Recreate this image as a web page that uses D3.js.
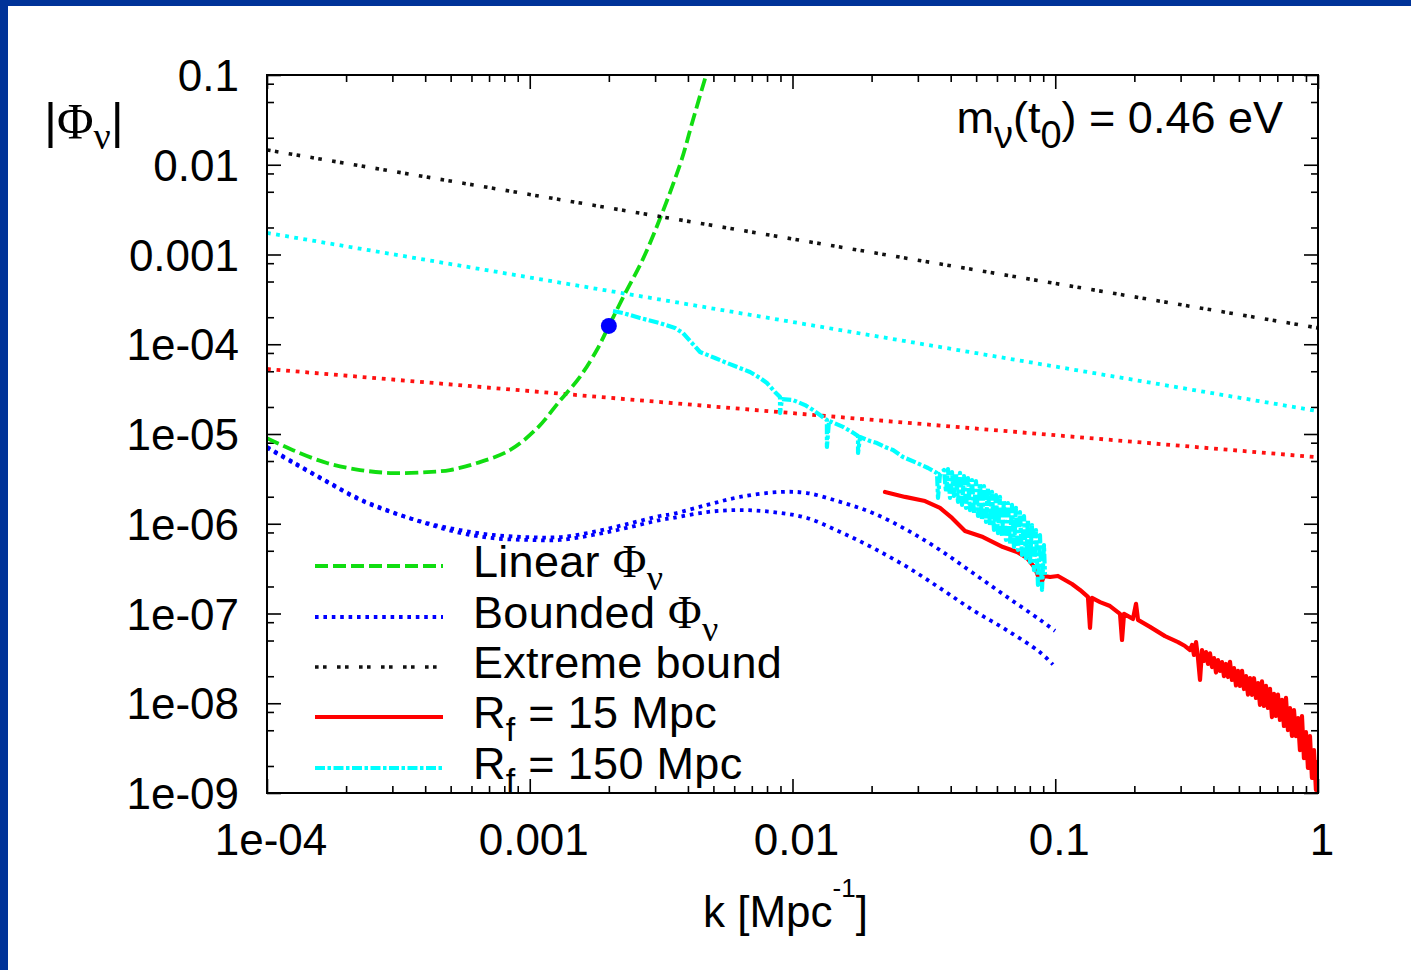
<!DOCTYPE html>
<html><head><meta charset="utf-8">
<script src="https://cdn.jsdelivr.net/npm/d3@7"></script>
<style>body{margin:0;background:#fff}svg{display:block}</style>
</head><body>
<script>
// ---------------- DATA ----------------
const xTickValues = [1e-4, 1e-3, 1e-2, 1e-1, 1];
const xTickLabels = ["1e-04", "0.001", "0.01", "0.1", "1"];
const yTickValues = [1e-9, 1e-8, 1e-7, 1e-6, 1e-5, 1e-4, 1e-3, 1e-2, 1e-1];
const yTickLabels = ["1e-09", "1e-08", "1e-07", "1e-06", "1e-05", "1e-04", "0.001", "0.01", "0.1"];
const xMinorMantissas = [2, 3, 4, 5, 6, 7, 8, 9];
const yMinorMantissas = [2, 5, 8];

// Linear Phi_nu
const linearK   = [1.0e-4, 1.256e-4, 1.69e-4, 2.26e-4, 3.02e-4, 4.06e-4, 4.97e-4, 6.3e-4, 8.4e-4, 1.07e-3, 1.30e-3, 1.55e-3, 1.80e-3, 2.0e-3, 2.26e-3, 2.746e-3, 3.73e-3, 4.18e-3, 4.69e-3];
const linearPhi = [9.0e-6, 6.6e-6, 4.75e-6, 3.97e-6, 3.67e-6, 3.76e-6, 3.97e-6, 4.75e-6, 6.6e-6, 1.17e-5, 2.33e-5, 4.31e-5, 8.63e-5, 1.6e-4, 3.28e-4, 1.0e-3, 1.0e-2, 3.16e-2, 0.1];

// Bounded Phi_nu (two branches)
const boundedAK   = [1.0e-4, 1.26e-4, 1.69e-4, 2.26e-4, 3.02e-4, 4.06e-4, 5.43e-4, 7.25e-4, 9.76e-4, 1.30e-3, 1.74e-3, 2.34e-3, 3.13e-3, 3.51e-3, 4.73e-3, 6.31e-3, 8.96e-3, 1.135e-2, 1.52e-2, 2.02e-2, 2.73e-2, 3.64e-2, 4.86e-2, 6.55e-2, 8.75e-2, 9.98e-2];
const boundedAPhi = [7.0e-6, 4.75e-6, 2.92e-6, 1.84e-6, 1.32e-6, 1.02e-6, 8.5e-7, 7.5e-7, 7.1e-7, 7.1e-7, 8.1e-7, 9.9e-7, 1.22e-6, 1.29e-6, 1.62e-6, 1.99e-6, 2.26e-6, 2.20e-6, 1.75e-6, 1.32e-6, 8.5e-7, 5.1e-7, 2.83e-7, 1.53e-7, 8.5e-8, 6.4e-8];
const boundedBK   = [1.0e-4, 1.26e-4, 1.69e-4, 2.26e-4, 3.02e-4, 4.06e-4, 5.43e-4, 7.25e-4, 9.76e-4, 1.30e-3, 1.74e-3, 2.34e-3, 3.13e-3, 3.51e-3, 4.73e-3, 6.31e-3, 8.43e-3, 1.135e-2, 1.52e-2, 2.02e-2, 2.73e-2, 3.64e-2, 4.86e-2, 6.55e-2, 8.75e-2, 9.8e-2];
const boundedBPhi = [7.2e-6, 4.85e-6, 2.98e-6, 1.88e-6, 1.34e-6, 1.0e-6, 7.9e-7, 6.9e-7, 6.6e-7, 6.6e-7, 7.5e-7, 9.0e-7, 1.10e-6, 1.16e-6, 1.35e-6, 1.42e-6, 1.35e-6, 1.16e-6, 8.1e-7, 5.4e-7, 3.3e-7, 1.92e-7, 1.09e-7, 6.5e-8, 3.7e-8, 2.7e-8];

// Straight bounds
const extremeK = [1e-4, 1];
const extremePhi = [1.46e-2, 1.52e-4];
const bound150K = [1e-4, 1];
const bound150Phi = [1.74e-3, 1.80e-5];
const bound15K = [1e-4, 1];
const bound15Phi = [5.3e-5, 5.5e-6];

// R_f = 15 Mpc
const rf15K = [0.02249, 0.02681, 0.03194, 0.03642, 0.04046, 0.04535, 0.05309, 0.06325, 0.07153, 0.07805, 0.08374, 0.08825, 0.09060, 0.09550, 0.1024, 0.1089, 0.1158, 0.1242, 0.1332, 0.1356, 0.1380, 0.1481, 0.1616, 0.1764, 0.1795, 0.1827, 0.1976, 0.2029, 0.2065, 0.2294, 0.2616, 0.2933, 0.3118,
  0.3258, 0.3316, 0.3374, 0.3434, 0.3494, 0.3556, 0.3619, 0.3683, 0.3748, 0.3814, 0.3881, 0.3950, 0.4020, 0.4091, 0.4163, 0.4236, 0.4311, 0.4387, 0.4465, 0.4544, 0.4624, 0.4706, 0.4789, 0.4874, 0.4960, 0.5048, 0.5137, 0.5228, 0.5320, 0.5414, 0.5510, 0.5607, 0.5706, 0.5807, 0.5910, 0.6014, 0.6120, 0.6229, 0.6339, 0.6451, 0.6565, 0.6681, 0.6799, 0.6919, 0.7041, 0.7166, 0.7292, 0.7421, 0.7553, 0.7686, 0.7822, 0.7960, 0.8101, 0.8244, 0.8390, 0.8538, 0.8689, 0.8842, 0.8999, 0.9158, 0.9320, 0.9484, 0.9652, 0.9822, 0.9912, 1.0];
const rf15Phi = [2.26e-6, 1.99e-6, 1.79e-6, 1.50e-6, 1.16e-6, 8.3e-7, 7.1e-7, 5.5e-7, 4.84e-7, 4.15e-7, 3.21e-7, 2.13e-7, 2.62e-7, 2.55e-7, 2.62e-7, 2.36e-7, 2.13e-7, 1.83e-7, 1.53e-7, 6.9e-8, 1.49e-7, 1.34e-7, 1.21e-7, 9.9e-8, 5.07e-8, 9.9e-8, 8.7e-8, 1.28e-7, 8.5e-8, 7.1e-8, 5.6e-8, 4.8e-8, 4.34e-8,
  3.92e-8, 4.46e-8, 3.45e-8, 4.81e-8, 3.19e-8, 1.82e-8, 3.92e-8, 2.96e-8, 3.72e-8, 2.74e-8, 3.6e-8, 2.53e-8, 3.19e-8, 2.2e-8, 3.03e-8, 2.29e-8, 2.88e-8, 2.0e-8, 2.74e-8, 1.96e-8, 2.9e-8, 1.82e-8, 2.47e-8, 1.58e-8, 2.29e-8, 1.56e-8, 2.3e-8, 1.44e-8, 2.01e-8, 1.25e-8, 1.91e-8, 1.24e-8, 1.9e-8, 1.145e-8, 1.68e-8, 9.6e-9, 1.75e-8, 9.32e-9, 1.56e-8, 8.85e-9, 1.45e-8, 7.0e-9, 1.27e-8, 7.21e-9, 1.25e-8, 6.51e-9, 1.09e-8, 5.58e-9, 1.15e-8, 5.03e-9, 8.85e-9, 4.32e-9, 8.4e-9, 4.3e-9, 6.85e-9, 3.01e-9, 7.2e-9, 2.45e-9, 4.78e-9, 1.90e-9, 4.3e-9, 1.47e-9, 3.01e-9, 1.08e-9, 2.21e-9, 1.0e-9];

// R_f = 150 Mpc
const rf150K = [2.074e-3, 2.264e-3, 2.628e-3, 3.131e-3, 3.571e-3, 3.831e-3, 4.144e-3, 4.446e-3, 5.070e-3, 5.632e-3, 6.890e-3, 7.521e-3, 7.995e-3, 8.577e-3, 8.965e-3, 8.965e-3, 9.12e-3, 1.004e-2, 1.116e-2, 1.197e-2, 1.272e-2, 1.352e-2, 1.352e-2, 1.377e-2, 1.557e-2, 1.684e-2, 1.776e-2, 1.776e-2, 1.807e-2, 1.972e-2, 2.097e-2, 2.249e-2, 2.413e-2, 2.634e-2, 2.977e-2, 3.279e-2, 3.548e-2, 3.579e-2, 3.642e-2,
  0.03772, 0.03839, 0.03907, 0.03976, 0.04046, 0.04118, 0.04191, 0.04265, 0.04340, 0.04417, 0.04495, 0.04574, 0.04655, 0.04737, 0.04821, 0.04906, 0.04993, 0.05081, 0.05171, 0.05262, 0.05355, 0.05450, 0.05546, 0.05644, 0.05744, 0.05845, 0.05949, 0.06054, 0.06161, 0.06270, 0.06380, 0.06493, 0.06608, 0.06725, 0.06844, 0.06965, 0.07088, 0.07213, 0.07341, 0.07470, 0.07603, 0.07737, 0.07874, 0.08013, 0.08155, 0.08299, 0.08446, 0.08595, 0.08747, 0.08902, 0.09059, 0.09139];
const rf150Phi = [2.35e-4, 2.23e-4, 1.96e-4, 1.72e-4, 1.52e-4, 1.33e-4, 1.03e-4, 8.2e-5, 7.03e-5, 6.18e-5, 4.91e-5, 4.21e-5, 3.70e-5, 2.94e-5, 2.58e-5, 1.71e-5, 2.45e-5, 2.39e-5, 2.10e-5, 1.85e-5, 1.63e-5, 1.43e-5, 7.16e-6, 1.40e-5, 1.20e-5, 1.05e-5, 9.5e-6, 6.14e-6, 9.26e-6, 8.35e-6, 7.93e-6, 7.16e-6, 6.63e-6, 5.54e-6, 4.75e-6, 4.18e-6, 3.67e-6, 1.94e-6, 3.58e-6,
  3.97e-6, 2.26e-6, 4.07e-6, 1.94e-6, 3.77e-6, 2.04e-6, 3.58e-6, 1.75e-6, 3.68e-6, 1.62e-6, 3.40e-6, 1.50e-6, 3.23e-6, 1.42e-6, 3.07e-6, 1.32e-6, 2.99e-6, 1.22e-6, 2.84e-6, 1.10e-6, 2.63e-6, 1.046e-6, 2.50e-6, 9.44e-7, 2.26e-6, 8.52e-7, 2.09e-6, 7.88e-7, 1.99e-6, 7.12e-7, 1.84e-6, 6.59e-7, 1.70e-6, 5.95e-7, 1.62e-6, 5.51e-7, 1.50e-6, 5.10e-7, 1.35e-6, 4.49e-7, 1.22e-6, 4.15e-7, 1.10e-6, 3.75e-7, 9.68e-7, 3.05e-7, 8.52e-7, 2.08e-7, 7.49e-7, 1.83e-7, 5.80e-7, 2.69e-7];

// marked point
const pointK = [2.0e-3];
const pointPhi = [1.6e-4];

const legendLabels = ["Linear Φν", "Bounded Φν", "Extreme bound", "Rf = 15 Mpc", "Rf = 150 Mpc"];

// ---------------- DRAW ----------------
const W = 1411, H = 970;
const svg = d3.select("body").append("svg").attr("width", W).attr("height", H);
svg.append("rect").attr("width", W).attr("height", H).attr("fill", "#fff");
svg.append("rect").attr("x", 0).attr("y", 0).attr("width", W).attr("height", 6).attr("fill", "#003399");
svg.append("rect").attr("x", 0).attr("y", 0).attr("width", 8).attr("height", H).attr("fill", "#003399");

const L = 267, R = 1318, T = 75, B = 793;
const x = d3.scaleLog().domain([1e-4, 1]).range([L, R]);
const y = d3.scaleLog().domain([1e-9, 0.1]).range([B, T]);

const SANS = "'Liberation Sans', Arial, Helvetica, sans-serif";
const SERIF = "'Liberation Serif', 'Times New Roman', serif";
const FS = 44;

function minorTicks(majors, mants) {
  const out = [];
  majors.slice(0, -1).forEach(d => mants.forEach(m => out.push(d * m)));
  return out;
}
const xMinor = minorTicks(xTickValues, xMinorMantissas);
const yMinor = minorTicks(yTickValues, yMinorMantissas);

function styleAxis(g) {
  g.select(".domain").remove();
  g.selectAll("line").attr("stroke", "#000").attr("stroke-width", 1.6);
}
[[d3.axisBottom(x), B], [d3.axisTop(x), T]].forEach(([ax, pos]) => {
  svg.append("g").attr("transform", `translate(0,${pos})`).call(ax.tickValues(xTickValues).tickSize(-14).tickFormat("")).call(styleAxis);
});
[[d3.axisBottom(x), B], [d3.axisTop(x), T]].forEach(([ax, pos]) => {
  svg.append("g").attr("transform", `translate(0,${pos})`).call(ax.tickValues(xMinor).tickSize(-7).tickFormat("")).call(styleAxis);
});
[[d3.axisLeft(y), L], [d3.axisRight(y), R]].forEach(([ax, pos]) => {
  svg.append("g").attr("transform", `translate(${pos},0)`).call(ax.tickValues(yTickValues).tickSize(-14).tickFormat("")).call(styleAxis);
});
[[d3.axisLeft(y), L], [d3.axisRight(y), R]].forEach(([ax, pos]) => {
  svg.append("g").attr("transform", `translate(${pos},0)`).call(ax.tickValues(yMinor).tickSize(-7).tickFormat("")).call(styleAxis);
});

// tick labels
svg.append("g").selectAll("text").data(xTickValues).join("text")
  .attr("x", d => x(d) + 4).attr("y", B + 62).attr("text-anchor", "middle")
  .attr("font-family", SANS).attr("font-size", FS).attr("fill", "#000")
  .text((d, i) => xTickLabels[i]);
svg.append("g").selectAll("text").data(yTickValues).join("text")
  .attr("x", L - 28).attr("y", d => y(d) + 16).attr("text-anchor", "end")
  .attr("font-family", SANS).attr("font-size", FS).attr("fill", "#000")
  .text((d, i) => yTickLabels[i]);

function rich(parent, xPos, yPos, segs, anchor, fs) {
  const t = parent.append("text").attr("x", xPos).attr("y", yPos)
    .attr("font-family", SANS).attr("font-size", fs || FS).attr("fill", "#000")
    .attr("text-anchor", anchor || "start");
  let shift = 0;
  segs.forEach(s => {
    const target = s.sub ? s.sub : (s.sup ? -s.sup : 0);
    const sp = t.append("tspan").attr("dy", target - shift).text(s.t);
    shift = target;
    if (s.serif) sp.attr("font-family", SERIF);
    if (s.size) sp.attr("font-size", s.size);
  });
  return t;
}

// axis titles & annotation
rich(svg, 44, 138, [{t: "|", size: 50}, {t: "Φ", serif: true, size: 50}, {t: "ν", serif: true, sub: 11, size: 38}, {t: "|", size: 50}]);
rich(svg, 703, 927, [{t: "k [Mpc"}, {t: "-1", sup: 30, size: 26}, {t: "]"}]);
rich(svg, 1283, 133, [{t: "m"}, {t: "ν", sub: 15, size: 38}, {t: "(t"}, {t: "0", sub: 15, size: 38}, {t: ") = 0.46 eV"}], "end", 45);

// series
svg.append("clipPath").attr("id", "plotclip").append("rect").attr("x", L).attr("y", T).attr("width", R - L).attr("height", B - T);
const plot = svg.append("g").attr("clip-path", "url(#plotclip)");

const styles = {
  linear:  {stroke: "#11dd11", width: 3.8, dash: "13,5", cap: "butt"},
  bounded: {stroke: "#0000ff", width: 3.8, dash: "3.6,4.8", cap: "butt"},
  extreme: {stroke: "#111111", width: 3.6, dash: "3.6,4.4,3.6,10.4", cap: "butt"},
  b15:     {stroke: "#ff1111", width: 3.8, dash: "3.8,5.8", cap: "butt"},
  b150:    {stroke: "#00ffff", width: 3.8, dash: "3.8,5.4", cap: "butt"},
  rf15:    {stroke: "#ff0000", width: 4.2, dash: null, cap: "round"},
  rf150:   {stroke: "#00ffff", width: 4.2, dash: "10,2.5,3.5,2.5", cap: "butt"}
};
const zip = (a, b) => a.map((v, i) => [v, b[i]]);
const lineLin = d3.line().x(d => x(d[0])).y(d => y(d[1]));
const lineSmooth = d3.line().x(d => x(d[0])).y(d => y(d[1])).curve(d3.curveCatmullRom.alpha(0.5));

function draw(data, st, gen) {
  const p = plot.append("path").datum(data).attr("d", gen).attr("fill", "none")
    .attr("stroke", st.stroke).attr("stroke-width", st.width).attr("stroke-linecap", st.cap)
    .attr("stroke-linejoin", "round");
  if (st.dash) p.attr("stroke-dasharray", st.dash);
}

draw(zip(bound15K, bound15Phi), styles.b15, lineLin);
draw(zip(bound150K, bound150Phi), styles.b150, lineLin);
draw(zip(linearK, linearPhi), styles.linear, lineSmooth);
draw(zip(boundedAK, boundedAPhi), styles.bounded, lineSmooth);
draw(zip(boundedBK, boundedBPhi), styles.bounded, lineSmooth);
draw(zip(extremeK, extremePhi), styles.extreme, lineLin);
draw(zip(rf15K, rf15Phi), styles.rf15, lineLin);
draw(zip(rf150K, rf150Phi), styles.rf150, lineLin);

plot.selectAll("circle.pt").data(zip(pointK, pointPhi)).join("circle")
  .attr("cx", d => x(d[0])).attr("cy", d => y(d[1])).attr("r", 8).attr("fill", "#0000ff");

// frame
svg.append("rect").attr("x", L).attr("y", T).attr("width", R - L).attr("height", B - T)
  .attr("fill", "none").attr("stroke", "#000").attr("stroke-width", 2);

// legend
const legendRows = [566, 617, 667, 717, 768];
const legendStyles = [styles.linear, styles.bounded, styles.extreme, styles.rf15, styles.rf150];
const legendSegs = [
  [{t: "Linear "}, {t: "Φ", serif: true, size: 46}, {t: "ν", serif: true, sub: 13, size: 36}],
  [{t: "Bounded "}, {t: "Φ", serif: true, size: 46}, {t: "ν", serif: true, sub: 13, size: 36}],
  [{t: "Extreme bound"}],
  [{t: "R"}, {t: "f", sub: 13, size: 34}, {t: " = 15 Mpc"}],
  [{t: "R"}, {t: "f", sub: 13, size: 34}, {t: " = 150 Mpc"}]
];
const lg = svg.append("g");
legendRows.forEach((ry, i) => {
  const st = legendStyles[i];
  const p = lg.append("line").attr("x1", 315).attr("x2", 443).attr("y1", ry).attr("y2", ry)
    .attr("stroke", st.stroke).attr("stroke-width", st.width).attr("stroke-linecap", "butt");
  if (st.dash) p.attr("stroke-dasharray", st.dash);
  rich(lg, 473, ry + 11, legendSegs[i], "start", 45).attr("letter-spacing", 0.3).attr("data-label", legendLabels[i]);
});
</script>
</body></html>
